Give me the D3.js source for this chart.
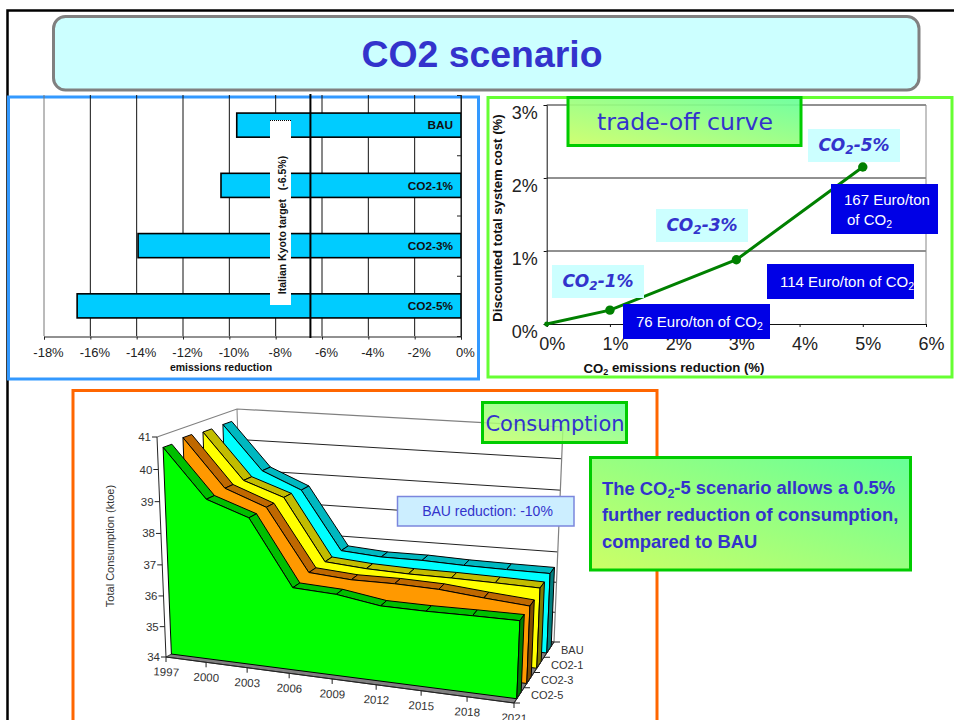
<!DOCTYPE html>
<html>
<head>
<meta charset="utf-8">
<script src="https://cdn.jsdelivr.net/npm/d3@7/dist/d3.min.js"></script>
<style>
  html, body { margin: 0; padding: 0; background: #fff; overflow: hidden; }
  text { font-family: "Liberation Sans", Arial, sans-serif; }
  .hand { font-family: "Comic Sans MS", "DejaVu Sans", sans-serif; }
</style>
</head>
<body>
<svg id="slide" width="954" height="720"></svg>
<script>
// Emissions-reduction bars
const barCategories = ["BAU", "CO2-1%", "CO2-3%", "CO2-5%"];
const barValues = [-9.68, -10.36, -13.94, -16.57];
const barTicks = [-18, -16, -14, -12, -10, -8, -6, -4, -2, 0];
const kyotoTarget = -6.5;

// Trade-off curve
const curveReduction = [0, 1, 3, 5];
const curveCost = [0, 0.19, 0.88, 2.15];
const curveXTicks = [0, 1, 2, 3, 4, 5, 6];
const curveYTicks = [0, 1, 2, 3];

// Total consumption by scenario
const years = [1997, 2000, 2003, 2006, 2009, 2012, 2015, 2018, 2021];
const consumptionBAU = [40.66, 39.24, 38.7, 36.8, 36.7, 36.7, 36.65, 36.63, 36.62];
const consumptionCO21 = [40.65, 39.2, 38.76, 36.79, 36.69, 36.65, 36.65, 36.63, 36.6];
const consumptionCO23 = [40.7, 39.22, 38.74, 36.79, 36.7, 36.72, 36.69, 36.57, 36.47];
const consumptionCO25 = [40.62, 39.14, 38.7, 36.65, 36.6, 36.4, 36.4, 36.43, 36.45];
const scenarioNames = ["CO2-5", "CO2-3", "CO2-1", "BAU"];
const consumptionTicks = [34, 35, 36, 37, 38, 39, 40, 41];

const BLUE = "#3333cc";
const svg = d3.select("#slide");
const defs = svg.append("defs");

const grad = defs.append("linearGradient").attr("id", "boxFill")
  .attr("x1", "0%").attr("y1", "100%").attr("x2", "100%").attr("y2", "0%");
grad.append("stop").attr("offset", "0%").attr("stop-color", "#ccff66");
grad.append("stop").attr("offset", "100%").attr("stop-color", "#66ff99");

// Writes a string with "_2" style subscripts as tspans.
function richText(sel, str, subSize) {
  str.split("_").forEach((part, i) => {
    if (i === 0) { sel.append("tspan").text(part); return; }
    sel.append("tspan").attr("dy", "0.28em").attr("font-size", subSize).text(part[0]);
    sel.append("tspan").attr("dy", "-0.22em").text(part.slice(1));
  });
  return sel;
}

// ---- slide frame and title ----
svg.append("path").attr("d", "M7.5,720V10.5H954").attr("fill", "none").attr("stroke", "#000").attr("stroke-width", 2.5);
svg.append("rect").attr("x", 53.5).attr("y", 16.5).attr("width", 865.5).attr("height", 73.5).attr("rx", 12)
  .attr("fill", "#ccffff").attr("stroke", "#808080").attr("stroke-width", 3);
svg.append("text").attr("x", 482).attr("y", 67).attr("text-anchor", "middle")
  .attr("font-size", 37.4).attr("font-weight", "bold").attr("fill", BLUE).text("CO2 scenario");

// ---- emissions-reduction bars ----
(function () {
  const g = svg.append("g");
  g.append("rect").attr("x", 8.5).attr("y", 97).attr("width", 470).attr("height", 282)
    .attr("fill", "#fff").attr("stroke", "#3399ff").attr("stroke-width", 3);

  const x = d3.scaleLinear().domain([-18, 0]).range([44, 461]);
  const yEdge = d3.scaleLinear().domain([0, 4]).range([95, 336]);
  const y = d3.scaleBand().domain(barCategories).range([95, 336]).paddingInner(0.6).paddingOuter(0.3);

  const grid = g.append("g");
  grid.selectAll("line").data(barTicks).join("line")
    .attr("x1", d => x(d)).attr("x2", d => x(d)).attr("y1", 95).attr("y2", 336)
    .attr("stroke", d => d === -18 ? "#777" : "#111").attr("stroke-width", 1);

  g.selectAll(".bar").data(barCategories).join("rect").attr("class", "bar")
    .attr("x", (d, i) => x(barValues[i])).attr("y", d => y(d))
    .attr("width", (d, i) => x(0) - x(barValues[i])).attr("height", y.bandwidth())
    .attr("fill", "#00ccff").attr("stroke", "#000").attr("stroke-width", 1.6);

  g.selectAll(".barLabel").data(barCategories).join("text").attr("class", "barLabel")
    .attr("x", 453).attr("y", d => y(d) + y.bandwidth() / 2 + 4.2)
    .attr("text-anchor", "end").attr("font-size", 11.8).attr("font-weight", "bold").attr("fill", "#111").text(d => d);

  const xAxis = g.append("g").attr("transform", "translate(0,336.5)")
    .call(d3.axisBottom(x).tickValues(barTicks).tickSize(3).tickPadding(8).tickFormat(d => d + "%"));
  xAxis.selectAll("text").attr("font-size", 13).attr("dx", 4).attr("fill", "#222").style("font-family", '"Liberation Sans"');
  xAxis.selectAll("line, path").attr("stroke", "#222");

  const yAxis = g.append("g").attr("transform", "translate(461,0)")
    .call(d3.axisRight(yEdge).ticks(4).tickSize(-4).tickFormat(""));
  yAxis.selectAll("line, path").attr("stroke", "#222");

  g.append("text").attr("x", 221).attr("y", 370.5).attr("text-anchor", "middle")
    .attr("font-size", 10.5).attr("font-weight", "bold").attr("fill", "#111").text("emissions reduction");

  g.append("rect").attr("x", 270).attr("y", 120).attr("width", 21).attr("height", 185).attr("fill", "#fff");
  g.append("line").attr("x1", 270).attr("x2", 291).attr("y1", 120.5).attr("y2", 120.5)
    .attr("stroke", "#000").attr("stroke-dasharray", "1,1");
  g.append("text").attr("transform", "translate(285.5,225) rotate(-90)").attr("text-anchor", "middle")
    .attr("font-size", 10.5).attr("font-weight", "bold").attr("fill", "#111").style("white-space", "pre")
    .text("Italian Kyoto target   (-6.5%)");

  g.append("line").attr("x1", x(kyotoTarget)).attr("x2", x(kyotoTarget)).attr("y1", 94).attr("y2", 338)
    .attr("stroke", "#000").attr("stroke-width", 2);
})();

// ---- trade-off curve ----
(function () {
  const g = svg.append("g");
  g.append("rect").attr("x", 488).attr("y", 97.5).attr("width", 464).attr("height", 279.5)
    .attr("fill", "#fff").attr("stroke", "#66ff33").attr("stroke-width", 3);

  const x = d3.scaleLinear().domain([0, 6]).range([546.7, 926]);
  const y = d3.scaleLinear().domain([0, 3]).range([324, 105]);

  g.selectAll(".grid").data(curveYTicks.slice(1)).join("line").attr("class", "grid")
    .attr("x1", x(0)).attr("x2", x(6)).attr("y1", d => y(d)).attr("y2", d => y(d))
    .attr("stroke", "#222").attr("stroke-width", 1);
  g.append("line").attr("x1", x(6)).attr("x2", x(6)).attr("y1", y(3)).attr("y2", y(0)).attr("stroke", "#888");

  const xAxis = g.append("g").attr("transform", `translate(0,${y(0)})`)
    .call(d3.axisBottom(x).tickValues(curveXTicks).tickSize(3).tickPadding(10).tickFormat(d => d + "%"));
  xAxis.selectAll("text").attr("font-size", 18).attr("dx", 5).attr("fill", "#222").style("font-family", '"Liberation Sans"');
  xAxis.selectAll("line, path").attr("stroke", "#111");

  const yAxis = g.append("g").attr("transform", `translate(${x(0)},0)`)
    .call(d3.axisLeft(y).tickValues(curveYTicks).tickSize(3).tickPadding(6).tickFormat(d => d + "%"));
  yAxis.selectAll("text").attr("font-size", 18).attr("dy", "0.73em").attr("fill", "#222").style("font-family", '"Liberation Sans"');
  yAxis.selectAll("line, path").attr("stroke", "#111");

  const pts = curveReduction.map((r, i) => [x(r), y(curveCost[i])]);
  g.append("path").attr("d", d3.line()(pts)).attr("fill", "none").attr("stroke", "#008000").attr("stroke-width", 3);
  g.selectAll(".pt").data(pts).join("circle").attr("class", "pt")
    .attr("cx", d => d[0]).attr("cy", d => d[1]).attr("r", (d, i) => i === 0 ? 2.5 : 4.7).attr("fill", "#008000");

  richText(g.append("text").attr("x", 674).attr("y", 372.5).attr("text-anchor", "middle")
    .attr("font-size", 13.2).attr("font-weight", "bold").attr("fill", "#111"), "CO_2 emissions reduction (%)", 9);
  g.append("text").attr("transform", "translate(501.5,218) rotate(-90)").attr("text-anchor", "middle")
    .attr("font-size", 13.2).attr("font-weight", "bold").attr("fill", "#111").text("Discounted total system cost (%)");

  // scenario tags
  const tags = [
    { x: 552, y: 265, t: "CO_2-1%" },
    { x: 656, y: 209, t: "CO_2-3%" },
    { x: 808, y: 129, t: "CO_2-5%" }
  ];
  tags.forEach(d => {
    g.append("rect").attr("x", d.x).attr("y", d.y).attr("width", 92).attr("height", 33).attr("fill", "#ccffff");
    richText(g.append("text").attr("class", "hand").attr("x", d.x + 46).attr("y", d.y + 22).attr("text-anchor", "middle")
      .attr("font-size", 17).attr("font-weight", "bold").attr("font-style", "italic").attr("fill", BLUE), d.t, 12);
  });

  // marginal cost boxes
  const costBoxes = [
    { x: 623, y: 304, w: 147, h: 35, lines: [{ x: 636, y: 327, t: "76 Euro/ton of CO_2" }] },
    { x: 767, y: 264, w: 147, h: 35, lines: [{ x: 780, y: 287, t: "114 Euro/ton of CO_2" }] },
    { x: 831, y: 184, w: 107, h: 50, lines: [{ x: 844, y: 205, t: "167 Euro/ton" }, { x: 847, y: 225, t: "of CO_2" }] }
  ];
  costBoxes.forEach(b => {
    g.append("rect").attr("x", b.x).attr("y", b.y).attr("width", b.w).attr("height", b.h).attr("fill", "#0000e6");
    b.lines.forEach(l => richText(g.append("text").attr("x", l.x).attr("y", l.y)
      .attr("font-size", 15).attr("fill", "#fff"), l.t, 10.5));
  });

  g.append("rect").attr("x", 568).attr("y", 97.5).attr("width", 233).attr("height", 48)
    .attr("fill", "url(#boxFill)").attr("fill-opacity", 0.92).attr("stroke", "#00cc00").attr("stroke-width", 3);
  g.append("text").attr("class", "hand").attr("x", 685).attr("y", 130).attr("text-anchor", "middle")
    .attr("font-size", 23.6).attr("fill", BLUE).text("trade-off curve");
})();

// ---- consumption perspective area chart ----
(function () {
  const g = svg.append("g");
  g.append("rect").attr("x", 73).attr("y", 390.5).attr("width", 584).attr("height", 340)
    .attr("fill", "#fff").attr("stroke", "#ff6600").attr("stroke-width", 3);

  // unit-cube coordinates along the three chart axes, with foreshortening on two of them
  const uScale = d3.scaleLinear().domain([1997, 2021]).range([0, 1]);
  const vScale = d3.scaleLinear().domain([34, 41]).range([0, 1]);
  const warp = k => t => t + k * t * (t - 1);
  const warpU = warp(0.09), warpV = warp(0.04);

  const depth = d3.scaleBand().domain(scenarioNames).range([0, 1]).paddingInner(0.56).paddingOuter(0.28);

  // cube corners on the page, indexed [u][v][w]
  const corners = {
    "000": [166, 657], "100": [514, 703], "010": [157, 437], "110": [523, 473],
    "001": [243, 615], "101": [554, 642], "011": [237, 409], "111": [563, 427]
  };
  const mix = (a, b, t) => [a[0] + (b[0] - a[0]) * t, a[1] + (b[1] - a[1]) * t];
  function project(year, value, w) {
    const u = warpU(uScale(year)), v = warpV(vScale(value));
    const f0 = mix(corners["000"], corners["100"], u), f1 = mix(corners["010"], corners["110"], u);
    const b0 = mix(corners["001"], corners["101"], u), b1 = mix(corners["011"], corners["111"], u);
    return mix(mix(f0, f1, v), mix(b0, b1, v), w);
  }
  const Y0 = years[0], Y1 = years[years.length - 1], V0 = 34, V1 = 41;
  const poly = d3.line().curve(d3.curveLinearClosed);

  // walls
  g.append("path").attr("d", poly([project(Y0, V0, 0), project(Y0, V1, 0), project(Y0, V1, 1), project(Y1, V1, 1), project(Y1, V0, 1), project(Y1, V0, 0)]))
    .attr("fill", "#fff");
  g.selectAll(".wallGrid").data(consumptionTicks.slice(0, -1)).join("line").attr("class", "wallGrid")
    .attr("x1", d => project(Y0, d, 1)[0]).attr("y1", d => project(Y0, d, 1)[1])
    .attr("x2", d => project(Y1, d, 1)[0]).attr("y2", d => project(Y1, d, 1)[1])
    .attr("stroke", "#222").attr("stroke-width", 1);
  g.append("path").attr("d", d3.line()([project(Y0, V1, 0), project(Y0, V1, 1), project(Y1, V1, 1), project(Y1, V0, 1)]))
    .attr("fill", "none").attr("stroke", "#808080").attr("stroke-width", 1.2);
  g.append("line").attr("x1", project(Y0, V1, 1)[0]).attr("y1", project(Y0, V1, 1)[1])
    .attr("x2", project(Y0, V0, 1)[0]).attr("y2", project(Y0, V0, 1)[1]).attr("stroke", "#808080");

  // floor
  g.append("path").attr("d", poly([project(Y0, V0, 0), project(Y1, V0, 0), project(Y1, V0, 1), project(Y0, V0, 1)]))
    .attr("fill", "#808080").attr("stroke", "#222").attr("stroke-width", 0.8);

  const palette = {
    "BAU": { front: "#00ffff", top: "#00b8c0", side: "#007f80" },
    "CO2-1": { front: "#ffff00", top: "#c2bc00", side: "#807c00" },
    "CO2-3": { front: "#ff9900", top: "#bf6800", side: "#804c00" },
    "CO2-5": { front: "#00ff00", top: "#00bf00", side: "#007f00" }
  };
  const seriesValues = { "BAU": consumptionBAU, "CO2-1": consumptionCO21, "CO2-3": consumptionCO23, "CO2-5": consumptionCO25 };

  // painted from the far scenario to the near one
  scenarioNames.slice().reverse().forEach(name => {
    const vals = seriesValues[name], c = palette[name];
    const w0 = depth(name), w1 = w0 + depth.bandwidth();
    const s = g.append("g").attr("stroke", "#000").attr("stroke-width", 1).attr("stroke-linejoin", "round");
    d3.pairs(years.map((yr, i) => [yr, vals[i]])).forEach(([a, b]) => {
      s.append("path").attr("d", poly([project(a[0], a[1], w0), project(b[0], b[1], w0), project(b[0], b[1], w1), project(a[0], a[1], w1)]))
        .attr("fill", c.top);
    });
    const frontPts = years.map((yr, i) => project(yr, vals[i], w0));
    s.append("path").attr("d", poly(frontPts.concat([project(Y1, V0, w0), project(Y0, V0, w0)]))).attr("fill", c.front);
    const last = vals[vals.length - 1];
    s.append("path").attr("d", poly([project(Y1, last, w0), project(Y1, last, w1), project(Y1, V0, w1), project(Y1, V0, w0)]))
      .attr("fill", c.side);
  });

  // value axis
  g.append("line").attr("x1", project(Y0, V1, 0)[0]).attr("y1", project(Y0, V1, 0)[1])
    .attr("x2", project(Y0, V0, 0)[0]).attr("y2", project(Y0, V0, 0)[1]).attr("stroke", "#222");
  const vt = g.selectAll(".vTick").data(consumptionTicks).join("g").attr("class", "vTick");
  vt.append("line")
    .attr("x1", d => project(Y0, d, 0)[0]).attr("y1", d => project(Y0, d, 0)[1])
    .attr("x2", d => project(Y0, d, 0)[0] - 5).attr("y2", d => project(Y0, d, 0)[1]).attr("stroke", "#222");
  vt.append("text").attr("x", d => project(Y0, d, 0)[0] - 6).attr("y", d => project(Y0, d, 0)[1] + 4)
    .attr("text-anchor", "end").attr("font-size", 11.5).attr("fill", "#333").text(d => d);

  // year axis
  g.append("line").attr("x1", project(Y0, V0, 0)[0]).attr("y1", project(Y0, V0, 0)[1])
    .attr("x2", project(Y1, V0, 0)[0]).attr("y2", project(Y1, V0, 0)[1]).attr("stroke", "#222");
  const yt = g.selectAll(".yTick").data(years).join("g").attr("class", "yTick");
  yt.append("line")
    .attr("x1", d => project(d, V0, 0)[0]).attr("y1", d => project(d, V0, 0)[1])
    .attr("x2", d => project(d, V0, 0)[0]).attr("y2", d => project(d, V0, 0)[1] + 5).attr("stroke", "#222");
  yt.append("text").attr("text-anchor", "middle").attr("font-size", 11.5).attr("fill", "#333")
    .attr("transform", d => { const p = project(d, V0, 0); return `translate(${p[0]},${p[1] + 19}) rotate(3)`; })
    .text(d => d);

  // depth axis
  g.append("line").attr("x1", project(Y1, V0, 0)[0]).attr("y1", project(Y1, V0, 0)[1])
    .attr("x2", project(Y1, V0, 1)[0]).attr("y2", project(Y1, V0, 1)[1]).attr("stroke", "#222");
  g.selectAll(".dTick").data([0, 0.25, 0.5, 0.75, 1]).join("line").attr("class", "dTick")
    .attr("x1", d => project(Y1, V0, d)[0]).attr("y1", d => project(Y1, V0, d)[1])
    .attr("x2", d => project(Y1, V0, d)[0] + 6).attr("y2", d => project(Y1, V0, d)[1]).attr("stroke", "#222");
  g.selectAll(".dLabel").data(scenarioNames).join("text").attr("class", "dLabel")
    .attr("x", d => project(Y1, V0, depth(d) + depth.bandwidth() / 2)[0] + 12)
    .attr("y", d => project(Y1, V0, depth(d) + depth.bandwidth() / 2)[1] + 4)
    .attr("font-size", 11).attr("fill", "#333").text(d => d);

  g.append("text").attr("transform", "translate(114,546) rotate(-90)").attr("text-anchor", "middle")
    .attr("font-size", 11).attr("fill", "#333").text("Total Consumption (ktoe)");

  // callouts
  g.append("rect").attr("x", 397.5).attr("y", 496.5).attr("width", 176.5).attr("height", 29.5)
    .attr("fill", "#cceeff").attr("stroke", "#7b86dd").attr("stroke-width", 1.5);
  g.append("text").attr("x", 487.5).attr("y", 516).attr("text-anchor", "middle")
    .attr("font-size", 14).attr("fill", BLUE).text("BAU reduction: -10%");

  g.append("rect").attr("x", 482.5).attr("y", 402.5).attr("width", 144).attr("height", 40)
    .attr("fill", "url(#boxFill)").attr("fill-opacity", 0.85).attr("stroke", "#00cc00").attr("stroke-width", 3);
  g.append("text").attr("class", "hand").attr("x", 555).attr("y", 431).attr("text-anchor", "middle")
    .attr("font-size", 21).attr("fill", BLUE).text("Consumption");

  g.append("rect").attr("x", 590.5).attr("y", 457.5).attr("width", 320).attr("height", 112.5)
    .attr("fill", "url(#boxFill)").attr("stroke", "#00cc00").attr("stroke-width", 3);
  ["The CO_2-5 scenario allows a 0.5%", "further reduction of consumption,", "compared to BAU"].forEach((t, i) => {
    richText(g.append("text").attr("x", 602).attr("y", 494.5 + i * 26.5)
      .attr("font-size", 18.4).attr("font-weight", "bold").attr("fill", BLUE), t, 12.5);
  });
})();
</script>
</body>
</html>
